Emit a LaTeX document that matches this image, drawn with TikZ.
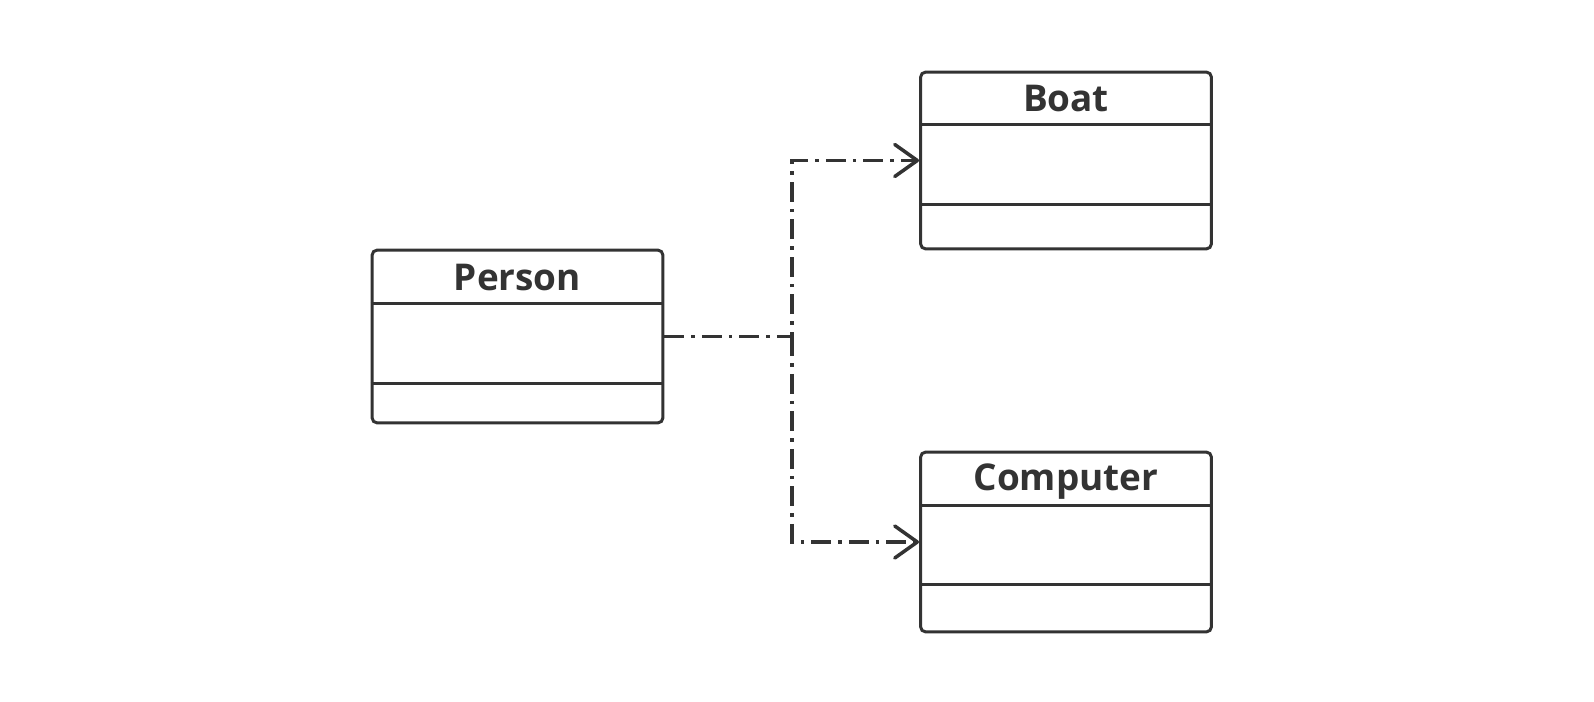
\documentclass[tikz,border=0pt]{standalone}
\usepackage{fontspec}
\usepackage{tikz}
\usetikzlibrary{arrows.meta,positioning}
\newfontfamily\umlfont{Open Sans}
\definecolor{umlgray}{HTML}{333333}
\tikzset{
 cls/.style
  = {rectangle, draw=umlgray, line width=1.7pt, rounded corners=3pt,
     minimum width=5.82cm, inner sep=0pt, fill=white},
 sep/.style
  = {draw=umlgray, line width=1.7pt},
 clsname/.style
  = {anchor=base, text=umlgray, inner sep=0pt,
     font=\umlfont\bfseries\fontsize{21}{25}\selectfont},
 dep/.style
  = {draw=umlgray, line width=2pt,
     dash pattern=on 0.4cm off 0.14cm on 0.07cm off 0.14cm,
     -{Straight Barb[length=0.45cm, width=0.64cm, round]}},
}

\begin{document}
\begin{tikzpicture}[x=0.02cm, y=-0.02cm]

\useasboundingbox (0,0) rectangle (1594,702);

% Class Person
\node[cls, minimum height=3.46cm] (Person) at (517.5,336.5) {};
\node[clsname] (PersonName) at ([yshift=-0.83cm]Person.north) {Person};
\draw[sep] ([yshift=-1.1cm]Person.north west) -- ([yshift=-1.1cm]Person.north east);
\draw[sep] ([yshift=-2.7cm]Person.north west) -- ([yshift=-2.7cm]Person.north east);

% Class Boat
\node[cls, minimum height=3.54cm] (Boat) at (1066,160.5) {};
\node[clsname] (BoatName) at ([yshift=-0.82cm]Boat.north) {Boat};
\draw[sep] ([yshift=-1.08cm]Boat.north west) -- ([yshift=-1.08cm]Boat.north east);
\draw[sep] ([yshift=-2.68cm]Boat.north west) -- ([yshift=-2.68cm]Boat.north east);

% Class Computer
\node[cls, minimum height=3.6cm] (Computer) at (1066,542) {};
\node[clsname] (ComputerName) at ([yshift=-0.8cm]Computer.north) {Computer};
\draw[sep] ([yshift=-1.1cm]Computer.north west) -- ([yshift=-1.1cm]Computer.north east);
\draw[sep] ([yshift=-2.68cm]Computer.north west) -- ([yshift=-2.68cm]Computer.north east);

% Dependencies
\coordinate (fork) at (792,336.5);
\draw[dep] (Person.east) -- (fork) |- (Boat.west);
\draw[dep] (fork) |- (Computer.west);

\end{tikzpicture}
\end{document}
